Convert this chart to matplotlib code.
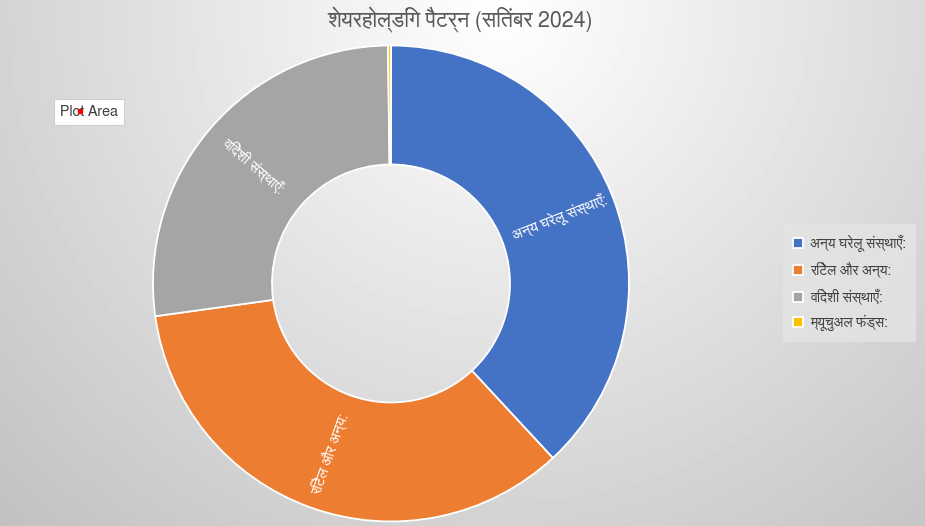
import numpy as np
import matplotlib
matplotlib.use("Agg")
import matplotlib.pyplot as plt
from matplotlib import font_manager
from matplotlib.ft2font import FT2Font
from matplotlib.lines import Line2D

title = "शेयरहोल्डिंग पैटर्न (सितंबर 2024)"
labels = ["अन्य घरेलू संस्थाएँ:", "रिटेल और अन्य:", "विदेशी संस्थाएँ:", "म्यूचुअल फंड्स:"]
shares = [38.1, 34.7, 27.0, 0.2]
colors = ["#4472C4", "#ED7D31", "#A5A5A5", "#FFC000"]


def find_devanagari_font():
    # installed fonts with Devanagari glyphs, proportional sans ones first
    found = []
    for f in font_manager.fontManager.ttflist:
        try:
            if 0x0905 in FT2Font(f.fname).get_charmap():
                found.append(f.name)
        except Exception:
            pass
    if not found:
        return None
    found.sort(key=lambda n: ("Mono" in n, "Sans" not in n, n))
    return found[0]


deva = find_devanagari_font()
plt.rcParams["font.family"] = [deva, "DejaVu Sans"] if deva else ["DejaVu Sans"]

fig = plt.figure(figsize=(9.25, 5.26), dpi=100)

# radial grey background
bg = fig.add_axes([0, 0, 1, 1], zorder=-1)
yy, xx = np.mgrid[0:526, 0:925]
d = np.hypot(xx - 500, yy - 10)
shade = np.clip(255 - 0.087 * d, 185, 255) / 255
bg.imshow(shade, cmap="gray", vmin=0, vmax=1, aspect="auto", extent=(0, 925, 526, 0))
bg.axis("off")

ax = fig.add_axes([0.1654, 0.0086, 0.5146, 0.905])
ax.patch.set_alpha(0)
wedges, _ = ax.pie(
    shares,
    colors=colors,
    startangle=90,
    counterclock=False,
    radius=1,
    wedgeprops=dict(width=0.5, edgecolor="white", linewidth=1.3),
)
ax.set_xlim(-1, 1)
ax.set_ylim(-1, 1)
ax.axis("off")

for w, lab in zip(wedges[:3], labels[:3]):
    theta = (w.theta1 + w.theta2) / 2
    x = 0.76 * np.cos(np.radians(theta))
    y = 0.76 * np.sin(np.radians(theta))
    rot = ((theta + 90) % 180) - 90
    ax.text(x, y, lab, ha="center", va="center", rotation=rot,
            rotation_mode="anchor", color="white", fontsize=10.5)

fig.text(0.497, 1 - 20 / 526, title, ha="center", va="center",
         fontsize=15.5, color="#595959")

leg = ax.legend(
    wedges, labels,
    loc="upper right",
    bbox_to_anchor=(916 / 925, 1 - 224 / 526),
    bbox_transform=fig.transFigure,
    borderaxespad=0,
    fontsize=10,
    labelcolor="#404040",
    handlelength=0.7,
    handleheight=0.7,
    labelspacing=0.72,
    borderpad=0.75,
    handletextpad=0.5,
    fancybox=False,
    edgecolor="none",
    facecolor="#e4e4e4",
    framealpha=0.8,
)

# the "Plot Area" tooltip left over from the spreadsheet
fig.text(89 / 925, 1 - 112 / 526, "Plot Area", ha="center", va="center",
         fontsize=10.5, color="#404040",
         bbox=dict(boxstyle="square,pad=0.4", fc="white", ec="#cfcfcf", lw=0.8))
fig.add_artist(Line2D([80 / 925], [1 - 111 / 526], marker="o", markersize=3,
                      color="red", transform=fig.transFigure, zorder=5))

fig.savefig("out.png", dpi=100)
